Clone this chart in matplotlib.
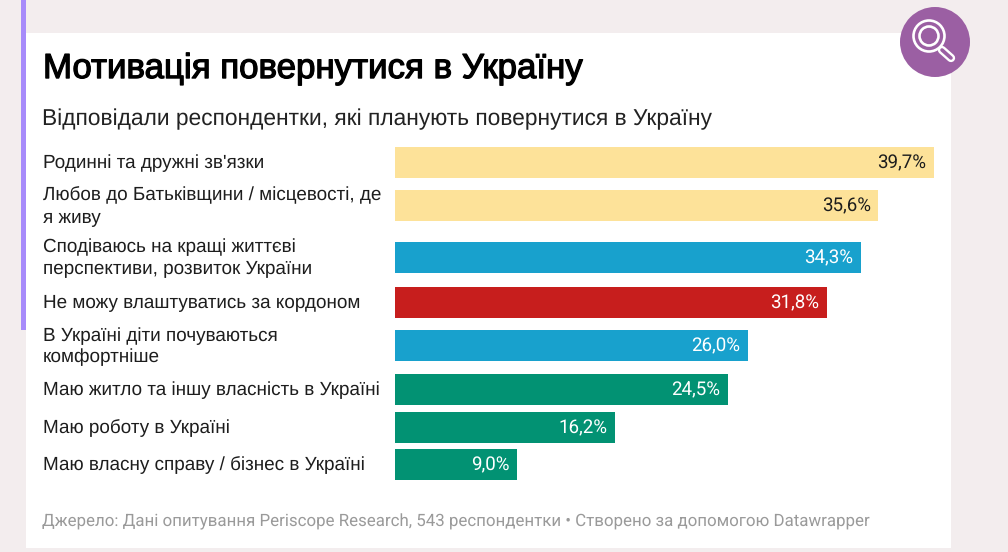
import matplotlib
matplotlib.use("Agg")
import matplotlib.pyplot as plt
import matplotlib.patheffects as pe
from matplotlib.patches import Circle, Rectangle

plt.rcParams["text.hinting"] = "no_hinting"

categories = [
    "Родинні та дружні зв'язки",
    "Любов до Батьківщини / місцевості, де\nя живу",
    "Сподіваюсь на кращі життєві\nперспективи, розвиток України",
    "Не можу влаштуватись за кордоном",
    "В Україні діти почуваються\nкомфортніше",
    "Маю житло та іншу власність в Україні",
    "Маю роботу в Україні",
    "Маю власну справу / бізнес в Україні",
]
values = [39.7, 35.6, 34.3, 31.8, 26.0, 24.5, 16.2, 9.0]
value_labels = ["39,7%", "35,6%", "34,3%", "31,8%", "26,0%", "24,5%", "16,2%", "9,0%"]
bar_colors = ["#fde299", "#fde299", "#18a1cd", "#c71e1d", "#18a1cd", "#029273", "#029273", "#029273"]
text_colors = ["#1d1d1d", "#1d1d1d", "#ffffff", "#ffffff", "#ffffff", "#ffffff", "#ffffff", "#ffffff"]

title = "Мотивація повернутися в Україну"
subtitle = "Відповідали респондентки, які планують повернутися в Україну"
source = "Джерело: Дані опитування Periscope Research, 543 респондентки • Створено за допомогою Datawrapper"

# row centres in pixels from the top
rows = [162.5, 205.5, 257, 302, 345.5, 389.5, 427, 464]

W, H = 1008, 552
fig = plt.figure(figsize=(W / 100, H / 100), dpi=100, facecolor="#f3edee")

# page layer in pixel coordinates
bg = fig.add_axes([0, 0, 1, 1])
bg.set_xlim(0, W)
bg.set_ylim(H, 0)
bg.axis("off")
bg.add_patch(Rectangle((26, 33), 925, 515, fc="white", ec="none"))
bg.add_patch(Rectangle((21, 0), 5, 330, fc="#a78bfa", ec="none"))

# badge with magnifier
bg.add_patch(Circle((935, 42), 35, fc="#9b5fa3", ec="none", zorder=3))
bg.add_patch(Circle((929, 36), 15.5, fc="none", ec="white", lw=1.9, zorder=4))
bg.add_patch(Circle((929, 36), 9.5, fc="none", ec="white", lw=1.9, zorder=4))
bg.plot([942, 951], [50, 58], color="white", lw=6, solid_capstyle="round", zorder=4)
bg.plot([942, 951], [50, 58], color="#9b5fa3", lw=2.6, solid_capstyle="round", zorder=5)

bg.text(43, 69, title, family="Liberation Sans", fontsize=25.1, color="black",
        va="center", ha="left",
        path_effects=[pe.withStroke(linewidth=0.9, foreground="black")])
bg.text(42, 119, subtitle, family="Liberation Sans", fontsize=16.35,
        color="#222222", va="center", ha="left")
bg.text(42, 521.5, source, family="Roboto", fontsize=12.2,
        color="#9a9a9a", va="center", ha="left")

for y, c in zip(rows, categories):
    # two-line labels sit a touch lower than single lines
    off = 1.0 if "\n" in c else 1.0
    bg.text(43, y + off, c, family="Liberation Sans", fontsize=13.6, color="#1d1d1d",
            va="center", ha="left", linespacing=1.29)

# bars
ax = fig.add_axes([395 / W, 0, (934 - 395) / W, 1])
ax.set_xlim(0, 39.7)
ax.set_ylim(H, 0)
ax.axis("off")
ax.patch.set_alpha(0)
ax.barh(rows, values, height=31, color=bar_colors, linewidth=0)
for y, v, lab, tc in zip(rows, values, value_labels, text_colors):
    ax.annotate(lab, (v, y), xytext=(-5.5, -0.5), textcoords="offset points", family="Roboto",
                fontsize=13.5, color=tc, va="center", ha="right")

fig.savefig("out.png", dpi=100, facecolor=fig.get_facecolor())
